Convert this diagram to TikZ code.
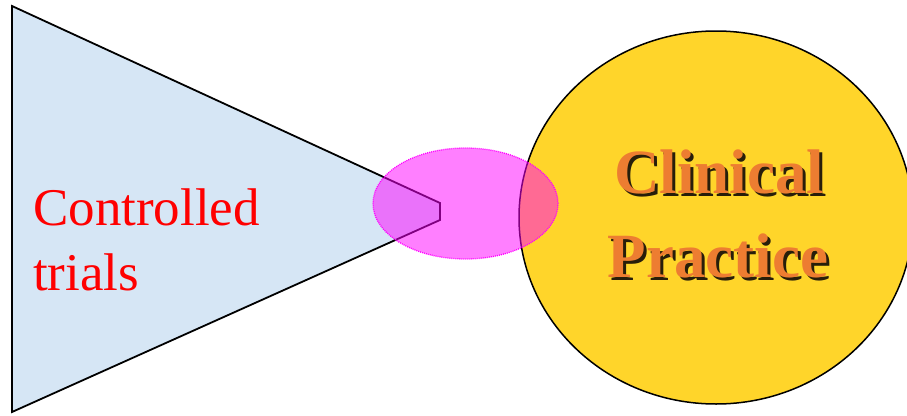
\documentclass[tikz,border=0pt]{standalone}
\usepackage{fontspec}
\setmainfont{Liberation Serif}
\usetikzlibrary{shapes.geometric}
\definecolor{triblue}{RGB}{214,230,245}
\definecolor{sunyellow}{RGB}{255,213,42}
\definecolor{txtorange}{RGB}{237,125,49}
\definecolor{pmag}{RGB}{255,0,255}
\definecolor{pred}{RGB}{255,0,0}
\definecolor{shade}{RGB}{40,30,10}
\newcommand{\shadowtext}[1]{\rlap{\hspace{3pt}\raisebox{-3pt}{\color{shade}#1}}#1}
\tikzset{
  outline/.style={draw=black, line width=1.8pt},
  bigfont/.style={font=\bfseries\fontsize{63}{70}\selectfont, inner sep=0pt, anchor=base, text=txtorange},
  redfont/.style={font=\fontsize{53}{60}\selectfont, inner sep=0pt, anchor=base west, text=pred}
}
\begin{document}
\begin{tikzpicture}[x=1pt,y=-1pt]
\useasboundingbox (0,0) rectangle (907,415);
\fill[white] (0,0) rectangle (907,415);
% funnel / triangle
\draw[outline, fill=triblue, line join=miter] (12,6) -- (440,203) -- (440,220) -- (12,412) -- cycle;
% clinical practice circle
\node (cp) [ellipse, draw=black, line width=1.5pt, fill=sunyellow, minimum width=394pt, minimum height=373pt, inner sep=0pt] at (716,217.5) {};
% overlap ellipse
\node (ov) [ellipse, draw=pmag, line width=1.3pt, dash pattern=on 1pt off 1pt, fill=pmag, fill opacity=0.5, minimum width=185pt, minimum height=111pt, inner sep=0pt] at (465.5,203.5) {};
% texts
\node (ct1) [redfont] at (33,225) {Controlled};
\node (ct2) [redfont] at (33,290) {trials};
\node (cl) [bigfont] at (719,193) {\shadowtext{Clinical}};
\node (pr) [bigfont] at (718,277) {\shadowtext{Practice}};
\end{tikzpicture}
\end{document}
